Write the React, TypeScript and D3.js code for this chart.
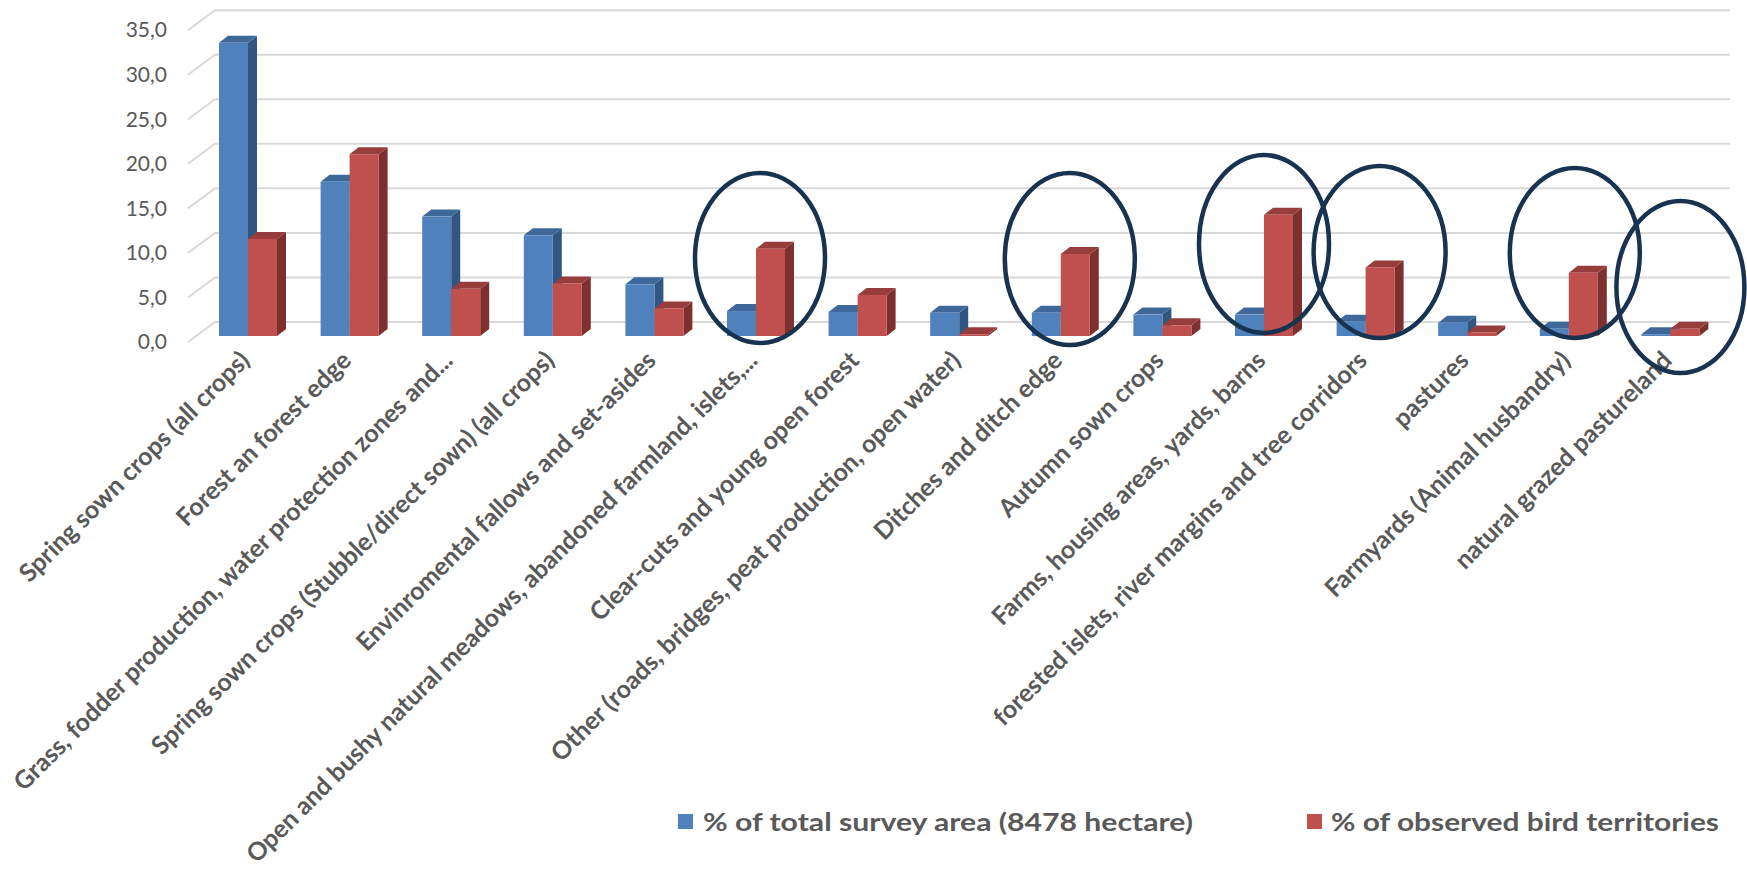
import React, { useEffect } from "react";
import * as d3 from "d3";

// ---------- data ----------
const categories = [
  "Spring sown crops (all crops)",
  "Forest an forest edge",
  "Grass, fodder production, water protection zones and...",
  "Spring sown crops (Stubble/direct sown) (all crops)",
  "Envinromental fallows and set-asides",
  "Open and bushy natural meadows, abandoned farmland, islets,...",
  "Clear-cuts and young open forest",
  "Other (roads, bridges, peat production, open water)",
  "Ditches and ditch edge",
  "Autumn sown crops",
  "Farms, housing areas, yards, barns",
  "forested islets, river margins and tree corridors",
  "pastures",
  "Farmyards (Animal husbandry)",
  "natural grazed pastureland",
];
const areaShare = [32.9, 17.3, 13.4, 11.3, 5.8, 2.8, 2.7, 2.6, 2.6, 2.4, 2.4, 1.6, 1.5, 0.8, 0.2];
const birdShare = [10.9, 20.4, 5.3, 5.9, 3.1, 9.8, 4.6, 0.2, 9.2, 1.2, 13.6, 7.7, 0.4, 7.1, 0.8];
const yTicks = [0, 5, 10, 15, 20, 25, 30, 35];
const seriesNames = ["% of total survey area (8478 hectare)", "% of observed bird territories"];
const circledCategories = [
  "Open and bushy natural meadows, abandoned farmland, islets,...",
  "Ditches and ditch edge",
  "Farms, housing areas, yards, barns",
  "forested islets, river margins and tree corridors",
  "Farmyards (Animal husbandry)",
  "natural grazed pastureland",
];

// ---------- layout ----------
const W = 1747;
const H = 873;
const ellipseLayout = [
  { dx: 4, cy: 258, rx: 65, ry: 85 },
  { dx: 9, cy: 259, rx: 65, ry: 86 },
  { dx: 0, cy: 244, rx: 65, ry: 89 },
  { dx: 14, cy: 252, rx: 66, ry: 86 },
  { dx: 6, cy: 253, rx: 65, ry: 85 },
  { dx: 10, cy: 287, rx: 64, ry: 86 },
];
const seriesStyle = [
  { front: "#4F81BD", top: "#3E6899", side: "#325682" },
  { front: "#C0504D", top: "#973D3B", side: "#7D302E" },
];
const FONT = "Lato, 'Open Sans', sans-serif";
const TEXT = "#595959";

export default function App() {
  useEffect(() => {
    document.body.style.margin = "0";
    document.body.style.overflow = "hidden";
  }, []);

  const x = d3.scaleBand<string>().domain(categories).range([197.2, 197.2 + 15 * 101.6]).padding(0);
  const yBar = d3.scaleLinear().domain([0, 35]).range([336, 336 - 35 * 8.91]);
  const yFront = d3.scaleLinear().domain([0, 35]).range([342, 342 - 35 * 8.91]);
  const yBack = d3.scaleLinear().domain([0, 35]).range([322, 322 - 35 * 8.91]);
  const yLabel = d3.scaleLinear().domain([0, 35]).range([344, 344 - 35 * 8.91]);

  const barW = 29;
  const dX = 9;
  const dY = 7;
  const gridFrontX = 188;
  const gridBackX = 215;
  const gridRight = 1730;

  const center = (c: string) => (x(c) as number) + x.bandwidth() / 2;

  const bar = (cx: number, v: number, s: number, key: string) => {
    const st = seriesStyle[s];
    const x0 = s === 0 ? cx - barW : cx;
    const x1 = x0 + barW;
    const yt = yBar(v);
    const yb = yBar(0);
    const pts = (a: number[][]) => a.map((p) => p.join(",")).join(" ");
    return (
      <g key={key}>
        <polygon points={pts([[x1, yt], [x1 + dX, yt - dY], [x1 + dX, yb - dY], [x1, yb]])} fill={st.side} />
        <polygon points={pts([[x0, yt], [x1, yt], [x1 + dX, yt - dY], [x0 + dX, yt - dY]])} fill={st.top} />
        <rect x={x0} y={yt} width={barW} height={Math.max(0, yb - yt)} fill={st.front} />
      </g>
    );
  };

  return (
    <svg width={W} height={H} style={{ position: "absolute", left: 0, top: 0, background: "#fff" }}>
      {/* gridlines */}
      <g stroke="#D9D9D9" strokeWidth={2} fill="none">
        {yTicks.map((t) => (
          <polyline key={t} points={`${gridFrontX},${yFront(t)} ${gridBackX},${yBack(t)} ${gridRight},${yBack(t)}`} />
        ))}
      </g>
      {/* y labels */}
      <g fontFamily={FONT} fontSize={21} fill={TEXT} textAnchor="end">
        {yTicks.map((t) => (
          <text key={t} x={167} y={yLabel(t)} dominantBaseline="middle">
            {d3.format(".1f")(t).replace(".", ",")}
          </text>
        ))}
      </g>
      {/* bars */}
      <g>
        {categories.map((c, i) => (
          <g key={c}>
            {bar(center(c), areaShare[i], 0, "a")}
            {bar(center(c), birdShare[i], 1, "b")}
          </g>
        ))}
      </g>
      {/* x labels */}
      <g fontFamily={FONT} fontSize={25} fontWeight={700} fill={TEXT} textAnchor="end">
        {categories.map((c) => {
          const ax = center(c) + 3;
          const ay = 362;
          return (
            <text key={c} x={ax} y={ay} transform={`rotate(-45 ${ax} ${ay})`}>
              {c}
            </text>
          );
        })}
      </g>
      {/* annotation ellipses */}
      <g fill="none" stroke="#183350" strokeWidth={4.5}>
        {circledCategories.map((c, i) => {
          const L = ellipseLayout[i];
          return <ellipse key={c} cx={center(c) + L.dx} cy={L.cy} rx={L.rx} ry={L.ry} />;
        })}
      </g>
      {/* legend */}
      <g fontFamily={FONT} fontSize={25} fontWeight={700} fill={TEXT}>
        <rect x={678} y={814} width={15} height={15} fill={seriesStyle[0].front} />
        <text x={703} y={831} textLength={490} lengthAdjust="spacingAndGlyphs">{seriesNames[0]}</text>
        <rect x={1307} y={814} width={15} height={15} fill={seriesStyle[1].front} />
        <text x={1331} y={831} textLength={388} lengthAdjust="spacingAndGlyphs">{seriesNames[1]}</text>
      </g>
    </svg>
  );
}
